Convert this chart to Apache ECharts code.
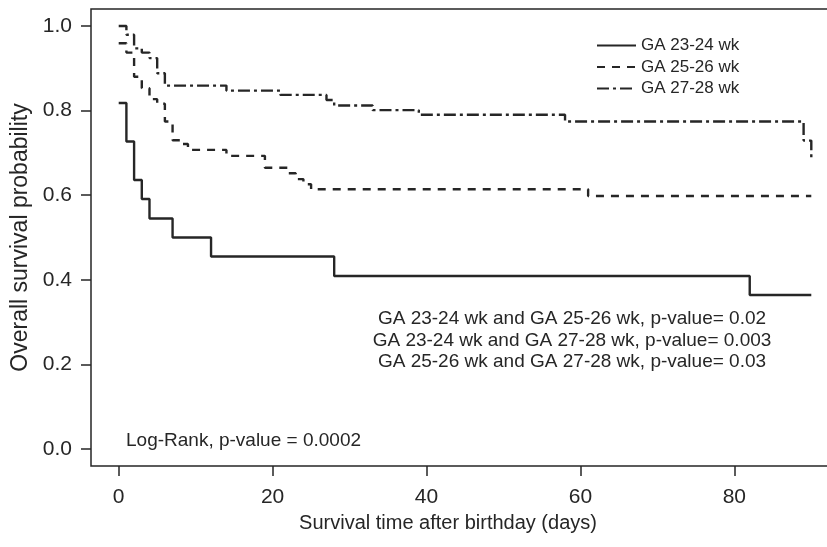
<!DOCTYPE html>
<html>
<head>
<meta charset="utf-8">
<script src="https://cdn.jsdelivr.net/npm/echarts@6/dist/echarts.min.js"></script>
<style>html,body{margin:0;padding:0;background:#fff;}#c{width:827px;height:547px;}</style>
</head>
<body>
<div id="c"></div>
<script>
// ---- data ----
const groupNames = ['GA 23-24 wk', 'GA 25-26 wk', 'GA 27-28 wk'];
const days2324 = [0, 1, 2, 3, 4, 7, 12, 28, 82, 90];
const surv2324 = [0.818, 0.727, 0.636, 0.591, 0.545, 0.500, 0.455, 0.409, 0.364, 0.364];
const days2526 = [0, 1, 2, 3, 4, 5, 6, 7, 8, 9, 14, 19, 22, 23, 24, 25, 61, 90];
const surv2526 = [0.959, 0.937, 0.880, 0.853, 0.827, 0.816, 0.774, 0.730, 0.721, 0.707, 0.693, 0.665, 0.652, 0.638, 0.626, 0.614, 0.598, 0.598];
const days2728 = [0, 1, 2, 3, 4, 5, 6, 14, 21, 27, 28, 33, 39, 58, 89, 90];
const surv2728 = [1.000, 0.979, 0.947, 0.937, 0.924, 0.888, 0.859, 0.847, 0.837, 0.825, 0.812, 0.801, 0.790, 0.774, 0.729, 0.683];
const xTicks = [0, 20, 40, 60, 80];
const yTicks = [0, 0.2, 0.4, 0.6, 0.8, 1.0];
const pairTexts = [
  'GA 23-24 wk and GA 25-26 wk, p-value= 0.02',
  'GA 23-24 wk and GA 27-28 wk, p-value= 0.003',
  'GA 25-26 wk and GA 27-28 wk, p-value= 0.03'
];
const logRankText = 'Log-Rank, p-value = 0.0002';

// ---- chart ----
const FONT = '"Liberation Sans", Arial, sans-serif';
const INK = '#262626';
const zip = (a, b) => a.map((d, i) => [d, b[i]]);

const chart = echarts.init(document.getElementById('c'), null, {renderer: 'canvas'});
const lineBase = {type: 'line', step: 'end', symbol: 'none', showSymbol: false, animation: false};
chart.setOption({
  animation: false,
  backgroundColor: '#fff',
  textStyle: {fontFamily: FONT, color: INK},
  grid: {left: 91, top: 9, width: 748, height: 457, outerBoundsMode: 'none', containLabel: false,
         show: true, borderColor: INK, borderWidth: 1.5, backgroundColor: 'transparent'},
  legend: {
    left: 596, top: 37, padding: 0, orient: 'vertical', itemWidth: 39, itemHeight: 14, itemGap: 4.5,
    data: groupNames,
    itemStyle: {opacity: 0},
    textStyle: {fontSize: 17, color: INK, fontFamily: FONT}
  },
  xAxis: {
    type: 'value', min: -3.6, max: 93.6,
    axisLine: {show: false, onZero: false},
    splitLine: {show: false},
    axisTick: {show: true, customValues: xTicks, length: 10, lineStyle: {color: INK, width: 1.5}},
    axisLabel: {customValues: xTicks, margin: 21, fontSize: 21, color: INK, fontFamily: FONT},
    name: 'Survival time after birthday (days)', nameLocation: 'middle', nameGap: 47,
    nameTextStyle: {fontSize: 20, color: INK, fontFamily: FONT, padding: [0, 34, 0, 0]}
  },
  yAxis: {
    type: 'value', min: -0.04, max: 1.04,
    axisLine: {show: false, onZero: false},
    splitLine: {show: false},
    axisTick: {show: true, customValues: yTicks, length: 10, lineStyle: {color: INK, width: 1.5}},
    axisLabel: {customValues: yTicks, margin: 19, fontSize: 21, color: INK, fontFamily: FONT, formatter: v => v.toFixed(1)},
    name: 'Overall survival probability', nameLocation: 'middle', nameGap: 50, nameRotate: 90,
    nameTextStyle: {fontSize: 23, color: INK, fontFamily: FONT}
  },
  graphic: [
    ...pairTexts.map((t, i) => ({
      type: 'text', x: 572, y: 319 + i * 21.5, silent: true,
      style: {text: t, fontSize: 19, fontFamily: FONT, fill: INK, textAlign: 'center', textVerticalAlign: 'middle'}
    })),
    {type: 'text', x: 126, y: 441, silent: true,
     style: {text: logRankText, fontSize: 19, fontFamily: FONT, fill: INK, textAlign: 'left', textVerticalAlign: 'middle'}}
  ],
  series: [
    Object.assign({}, lineBase, {name: groupNames[0], data: zip(days2324, surv2324),
      lineStyle: {color: INK, width: 2.4, type: 'solid'}, itemStyle: {color: INK}}),
    Object.assign({}, lineBase, {name: groupNames[1], data: zip(days2526, surv2526),
      lineStyle: {color: INK, width: 2.4, type: [8, 7]}, itemStyle: {color: INK}}),
    Object.assign({}, lineBase, {name: groupNames[2], data: zip(days2728, surv2728),
      lineStyle: {color: INK, width: 2.4, type: [12, 4, 3, 4]}, itemStyle: {color: INK}})
  ]
});
</script>
</body>
</html>
